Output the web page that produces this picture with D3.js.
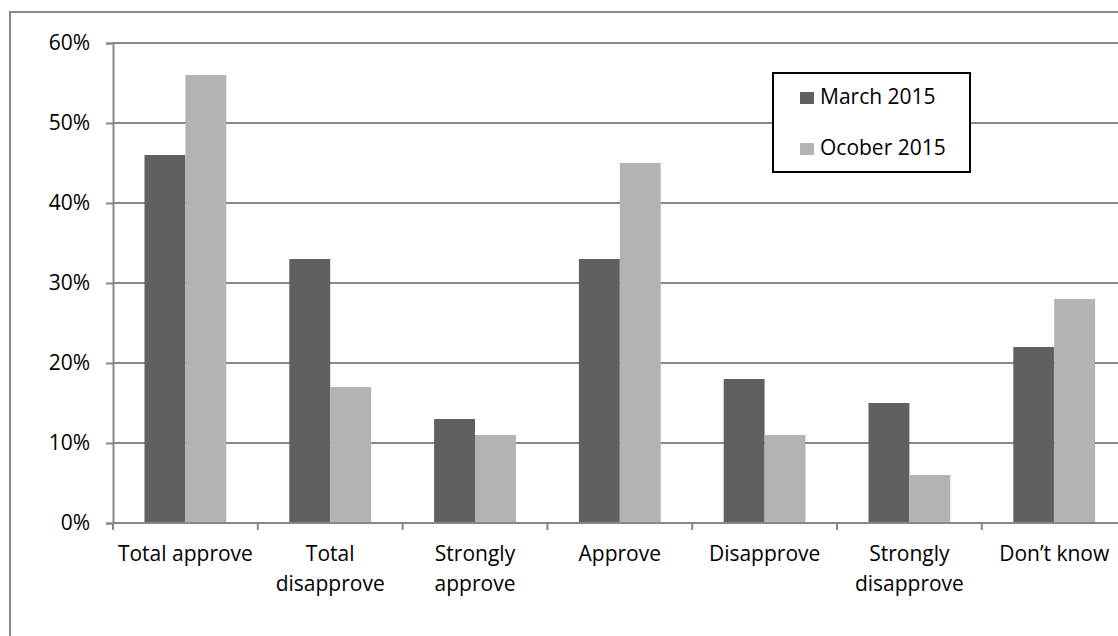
<!DOCTYPE html>
<html>
<head>
<meta charset="utf-8">
<script src="https://cdn.jsdelivr.net/npm/d3@7"></script>
<style>
  html, body { margin: 0; padding: 0; background: #fff; }
  svg { display: block; font-family: "Open Sans", "Noto Sans", sans-serif; }
</style>
</head>
<body>
<svg id="chart" width="1118" height="636"></svg>
<script>
// Survey answers, two waves
const categories = ["Total approve", "Total disapprove", "Strongly approve", "Approve", "Disapprove", "Strongly disapprove", "Don\u2019t know"];
const categoryLines = [["Total approve"], ["Total", "disapprove"], ["Strongly", "approve"], ["Approve"], ["Disapprove"], ["Strongly", "disapprove"], ["Don\u2019t know"]];
const seriesNames = ["March 2015", "Ocober 2015"];
const march2015 = [46, 33, 13, 33, 18, 15, 22];
const october2015 = [56, 17, 11, 45, 11, 6, 28];
const yTicks = [0, 10, 20, 30, 40, 50, 60];
const colors = ["#606060", "#b3b3b3"];

const svg = d3.select("#chart");
const W = 1118, H = 636;
const fontSize = "21px";

// Outer frame of the chart
svg.append("rect")
  .attr("x", 10).attr("y", 12)
  .attr("width", W + 20).attr("height", H + 20)
  .attr("fill", "#fff").attr("stroke", "#898989").attr("stroke-width", 2);

const plotLeft = 113, plotTop = 43, plotBottom = 523;
const step = 144.8;
const plotRight = plotLeft + step * categories.length;

const x = d3.scaleBand()
  .domain(categories)
  .range([plotLeft, plotRight])
  .paddingInner(0.435)
  .paddingOuter(0.2175);

const xSeries = d3.scaleBand()
  .domain(seriesNames)
  .range([0, x.bandwidth()]);

const y = d3.scaleLinear()
  .domain([0, 60])
  .range([plotBottom, plotTop]);

// Horizontal gridlines
svg.append("g")
  .selectAll("line")
  .data(yTicks.filter(d => d > 0))
  .join("line")
  .attr("x1", plotLeft).attr("x2", plotRight)
  .attr("y1", d => y(d)).attr("y2", d => y(d))
  .attr("stroke", "#878787").attr("stroke-width", 2);

// Y axis
const yAxis = svg.append("g")
  .attr("transform", `translate(${plotLeft},0)`)
  .call(d3.axisLeft(y).tickValues(yTicks).tickFormat(d => d + "%").tickSize(7).tickPadding(16));
yAxis.select(".domain").attr("stroke", "#878787").attr("stroke-width", 2);
yAxis.selectAll(".tick line").attr("stroke", "#878787").attr("stroke-width", 2);
yAxis.selectAll(".tick text")
  .attr("fill", "#000")
  .style("font-size", fontSize)
  .style("font-family", "'Open Sans', sans-serif");

// Bars
const rows = categories.map((c, i) => ({ cat: c, values: [march2015[i], october2015[i]] }));
const groups = svg.append("g")
  .selectAll("g")
  .data(rows)
  .join("g")
  .attr("transform", d => `translate(${x(d.cat)},0)`);

groups.selectAll("rect")
  .data(d => d.values.map((v, k) => ({ name: seriesNames[k], value: v, k })))
  .join("rect")
  .attr("x", d => xSeries(d.name))
  .attr("y", d => y(d.value))
  .attr("width", xSeries.bandwidth())
  .attr("height", d => y(0) - y(d.value))
  .attr("fill", d => colors[d.k]);

// X axis
const xAxis = svg.append("g")
  .attr("transform", `translate(0,${plotBottom})`);
xAxis.append("line")
  .attr("x1", plotLeft).attr("x2", plotRight)
  .attr("y1", 0).attr("y2", 0)
  .attr("stroke", "#878787").attr("stroke-width", 2);
xAxis.selectAll("line.tick")
  .data(d3.range(categories.length + 1))
  .join("line")
  .attr("class", "tick")
  .attr("x1", i => plotLeft + i * x.step())
  .attr("x2", i => plotLeft + i * x.step())
  .attr("y1", 0).attr("y2", 7)
  .attr("stroke", "#878787").attr("stroke-width", 2);

const labels = xAxis.selectAll("text")
  .data(categories)
  .join("text")
  .attr("text-anchor", "middle")
  .attr("fill", "#000")
  .style("font-size", fontSize)
  .attr("transform", d => `translate(${x(d) + x.bandwidth() / 2},38)`);
labels.selectAll("tspan")
  .data((d, i) => categoryLines[i])
  .join("tspan")
  .attr("x", 0)
  .attr("y", (d, j) => j * 30)
  .text(d => d);

// Legend
const legend = svg.append("g");
legend.append("rect")
  .attr("x", 773).attr("y", 73)
  .attr("width", 197).attr("height", 99)
  .attr("fill", "#fff").attr("stroke", "#000").attr("stroke-width", 2);
const items = legend.selectAll("g.item")
  .data(seriesNames)
  .join("g")
  .attr("class", "item")
  .attr("transform", (d, i) => `translate(800,${104 + i * 51})`);
items.append("rect")
  .attr("x", 0).attr("y", -12)
  .attr("width", 14).attr("height", 12)
  .attr("fill", (d, i) => colors[i]);
items.append("text")
  .attr("x", 20).attr("y", 0)
  .attr("fill", "#000")
  .style("font-size", fontSize)
  .text(d => d);
</script>
</body>
</html>
